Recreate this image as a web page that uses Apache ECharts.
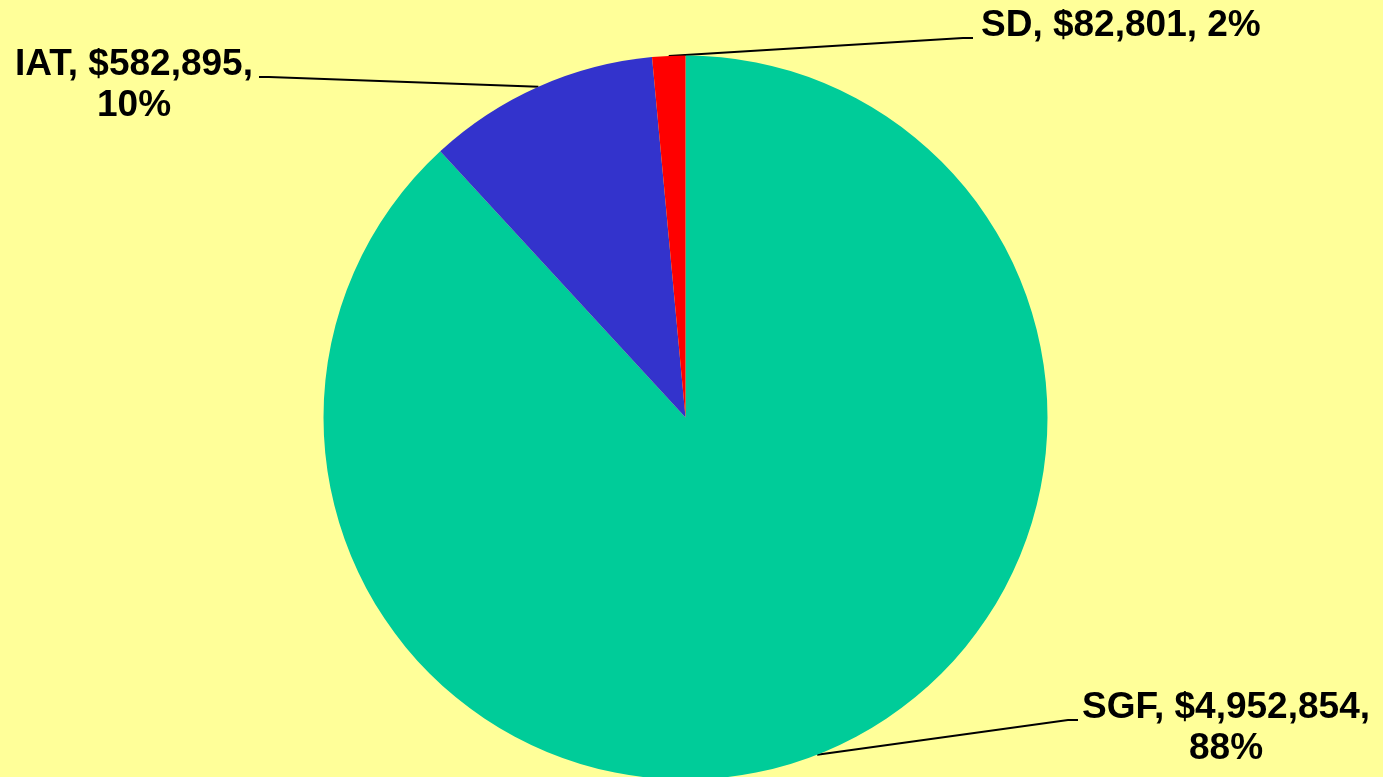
<!DOCTYPE html>
<html>
<head>
<meta charset="utf-8">
<script src="https://cdn.jsdelivr.net/npm/echarts@6/dist/echarts.min.js"></script>
<style>
  html, body { margin: 0; padding: 0; background: #ffff99; }
  #chart { width: 1383px; height: 777px; }
</style>
</head>
<body>
<div id="chart"></div>
<script>
// 数据
var categories = ['SGF', 'IAT', 'SD'];
var amounts = [4952854, 582895, 82801];
var colors = ['#00cc99', '#3333cc', '#ff0000'];

// 标签位置（文字中心 / 引导线末端）
var labelPlace = {
  SGF: { x: 1226, y: 728, align: 'center', wrap: true, end: [1078, 720], dir: 1 },
  IAT: { x: 134, y: 85, align: 'center', wrap: true, end: [259, 77], dir: -1 },
  SD: { x: 981, y: 26, align: 'left', wrap: false, end: [973, 38], dir: 1 }
};

var myChart = echarts.init(document.getElementById('chart'));

var option = {
  backgroundColor: '#ffff99',
  animation: false,
  series: [
    {
      type: 'pie',
      center: [685.5, 417.5],
      radius: 362,
      startAngle: 90,
      clockwise: true,
      percentPrecision: 0,
      emphasis: { disabled: true },
      itemStyle: { borderWidth: 0 },
      label: {
        show: true,
        position: 'outside',
        color: '#000',
        fontFamily: '"Liberation Sans", Arial, sans-serif',
        fontWeight: 'bold',
        fontSize: 37,
        lineHeight: 41,
        formatter: function (p) {
          var sep = labelPlace[p.name].wrap ? ',\n' : ', ';
          return p.name + ', $' + p.value.toLocaleString('en-US') + sep + p.percent + '%';
        }
      },
      labelLine: {
        show: true,
        lineStyle: { color: '#000', width: 2 }
      },
      labelLayout: function (params) {
        var name = categories[params.dataIndex];
        var pl = labelPlace[name];
        var start = params.labelLinePoints[0];
        return {
          x: pl.x,
          y: pl.y,
          align: pl.align,
          verticalAlign: 'middle',
          labelLinePoints: [
            start,
            [pl.end[0] - pl.dir * 10, pl.end[1]],
            pl.end
          ]
        };
      },
      data: categories.map(function (c, i) {
        return { name: c, value: amounts[i], itemStyle: { color: colors[i] } };
      })
    }
  ]
};

myChart.setOption(option);
</script>
</body>
</html>
